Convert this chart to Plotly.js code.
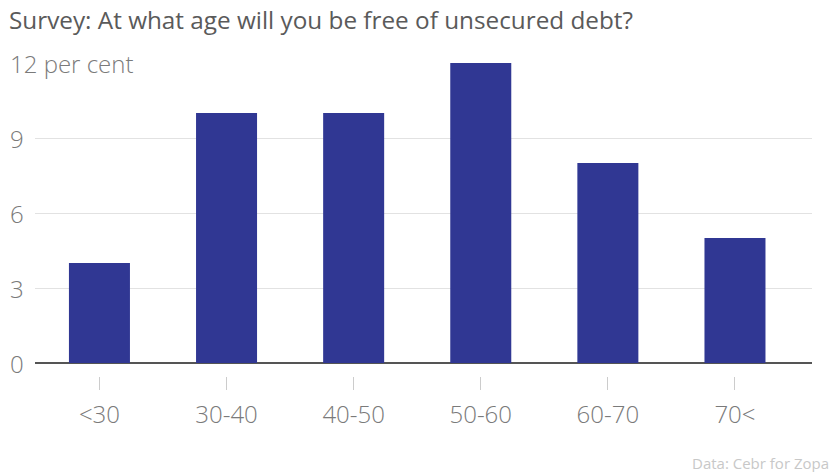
<!DOCTYPE html>
<html>
<head>
<meta charset="utf-8">
<script src="https://cdn.plot.ly/plotly-3.0.1.min.js"></script>
<style>
html,body{margin:0;padding:0;background:#fff;}
#chart{width:839px;height:472px;}
</style>
</head>
<body>
<div id="chart"></div>
<script>
const categories = ["<30", "30-40", "40-50", "50-60", "60-70", "70<"];
const values = [4, 10, 10, 12, 8, 5];
const yTickVals = [0, 3, 6, 9, 12];
const yTickText = ["0", "3", "6", "9", "12 per cent"];
const titleText = "Survey: At what age will you be free of unsecured debt?";
const sourceText = "Data: Cebr for Zopa";

const W = 839, H = 472;
const M = {l: 35, r: 27, t: 63, b: 96};
const plotW = W - M.l - M.r;
const plotH = H - M.t - M.b;
const FONT = "Open Sans, sans-serif";

const annotations = yTickVals.map((v, i) => ({
  xref: "paper", yref: "y",
  x: (1 - M.l) / plotW, y: v,
  xanchor: "left", yanchor: "middle",
  text: yTickText[i], showarrow: false,
  font: {family: FONT, size: 24, color: "#7a7a7a", weight: 300},
  bgcolor: i === yTickVals.length - 1 ? "#ffffff" : "rgba(0,0,0,0)",
  borderpad: 8
}));
annotations.push({
  xref: "paper", yref: "paper",
  x: (831 - M.l) / plotW, y: (M.t + plotH - 463) / plotH,
  xanchor: "right", yanchor: "middle",
  text: sourceText, showarrow: false,
  font: {family: FONT, size: 15, color: "#c8c8c8"}
});

const data = [{
  type: "bar",
  x: categories,
  y: values,
  width: 0.48,
  marker: {color: "#303793", line: {width: 0}},
  hoverinfo: "x+y"
}];

const layout = {
  width: W, height: H,
  margin: M,
  paper_bgcolor: "#fff", plot_bgcolor: "#fff",
  showlegend: false,
  title: {
    text: titleText,
    x: 9 / W, xanchor: "left", xref: "container",
    y: 1 - 12 / H, yanchor: "top", yref: "container",
    pad: {t: 0, b: 0, l: 0, r: 0},
    font: {family: FONT, size: 24.3, color: "#5a5a5a"}
  },
  xaxis: {
    type: "category",
    range: [-0.507, 5.606],
    showgrid: false, zeroline: false, showline: false,
    ticks: "outside", ticklen: 13, tickwidth: 1, tickcolor: "#cccccc",
    ticklabelstandoff: 4,
    tickfont: {family: FONT, size: 24, color: "#7a7a7a", weight: 300},
    fixedrange: true
  },
  yaxis: {
    range: [-0.52, 12],
    tickvals: yTickVals,
    showticklabels: false,
    showgrid: true, gridcolor: "#e2e2e2", gridwidth: 1,
    zeroline: true, zerolinecolor: "#555", zerolinewidth: 1.5,
    showline: false, ticks: "",
    fixedrange: true
  },
  annotations: annotations
};

Plotly.newPlot("chart", data, layout, {displayModeBar: false, staticPlot: true});
</script>
</body>
</html>
